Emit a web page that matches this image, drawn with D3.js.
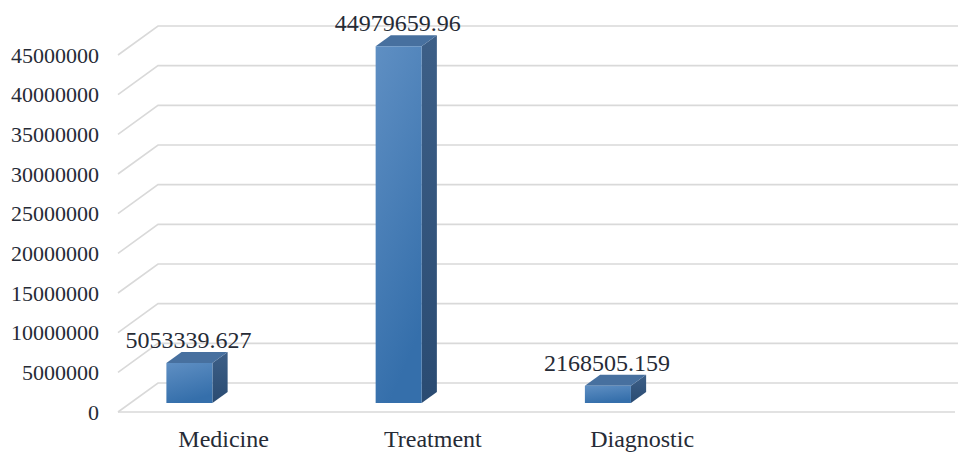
<!DOCTYPE html>
<html><head><meta charset="utf-8">
<script src="https://cdn.jsdelivr.net/npm/d3@7"></script>
<style>body{margin:0;background:#fff}svg{display:block}</style>
</head><body>
<svg id="c" width="958" height="454"></svg>
<script>
const categories = ["Medicine", "Treatment", "Diagnostic", ""];
const values = [5053339.627, 44979659.96, 2168505.159, null];
const valueLabels = ["5053339.627", "44979659.96", "2168505.159", ""];
const yTicks = [0, 5000000, 10000000, 15000000, 20000000, 25000000, 30000000, 35000000, 40000000, 45000000];

const FONT = "Liberation Serif";
const svg = d3.select("#c");
const DX = 40, DY = -29;            // depth projection (full depth)
const y = d3.scaleLinear().domain([0, 45000000]).range([412, 55]);
const x = d3.scaleBand().domain(categories).range([118, 955]).padding(0);
const bw = x.bandwidth();
const proj = (px, v, z) => [px + z * DX, y(v) + z * DY];

// gridlines
const grid = svg.append("g").attr("fill", "none").attr("stroke", "#d9d9d9").attr("stroke-width", 1.6);
yTicks.forEach(t => {
  const a = proj(118, t, 0), b = proj(118, t, 1), c = proj(958, t, 1);
  grid.append("path").attr("d", d3.line()([a, b, c]));
});
grid.append("path").attr("d", d3.line()([proj(118, 0, 0), proj(955, 0, 0)]));

// y labels
svg.append("g").selectAll("text").data(yTicks).join("text")
  .attr("x", 99).attr("y", d => y(d)).attr("dy", "0.35em")
  .attr("text-anchor", "end")
  .attr("font-family", FONT)
  .attr("font-size", 22).attr("fill", "#262b36")
  .text(d => d);

// gradients
const defs = svg.append("defs");
const gF = defs.append("linearGradient").attr("id", "gf").attr("x1", 0).attr("y1", 0).attr("x2", 0.3).attr("y2", 1);
gF.append("stop").attr("offset", 0).attr("stop-color", "#5f8fc3");
gF.append("stop").attr("offset", 1).attr("stop-color", "#356fab");
const gS = defs.append("linearGradient").attr("id", "gs").attr("x1", 0).attr("y1", 0).attr("x2", 0).attr("y2", 1);
gS.append("stop").attr("offset", 0).attr("stop-color", "#3d5f87");
gS.append("stop").attr("offset", 1).attr("stop-color", "#2a4b72");

const zF = 0.31, zB = 0.69;
const bars = categories.map((c, i) => ({ c, v: values[i], lab: valueLabels[i] })).filter(d => d.v != null);
const g = svg.append("g");
bars.forEach(d => {
  const x0 = x(d.c) + 0.172 * bw, x1 = x0 + 0.22 * bw;
  const poly = pts => d3.line()(pts) + "Z";
  g.append("path").attr("fill", "url(#gs)")
    .attr("d", poly([proj(x1, d.v, zF), proj(x1, d.v, zB), proj(x1, 0, zB), proj(x1, 0, zF)]));
  g.append("path").attr("fill", "#47709f")
    .attr("d", poly([proj(x0, d.v, zF), proj(x0, d.v, zB), proj(x1, d.v, zB), proj(x1, d.v, zF)]));
  g.append("path").attr("fill", "url(#gf)")
    .attr("d", poly([proj(x0, d.v, zF), proj(x1, d.v, zF), proj(x1, 0, zF), proj(x0, 0, zF)]));
  const tp = proj((x0 + x1) / 2, d.v, zB);
  g.append("text").attr("x", proj((x0 + x1) / 2, d.v, zF)[0] - 1).attr("y", tp[1] - 4)
    .attr("text-anchor", "middle")
    .attr("font-family", FONT)
    .attr("font-size", 24).attr("fill", "#262b36").text(d.lab);
});

// category labels
svg.append("g").selectAll("text").data(categories.filter(c => c)).join("text")
  .attr("x", d => x(d) + bw / 2 + 1).attr("y", 447)
  .attr("text-anchor", "middle")
  .attr("font-family", FONT)
  .attr("font-size", 24).attr("fill", "#262b36")
  .text(d => d);
</script>
</body></html>
